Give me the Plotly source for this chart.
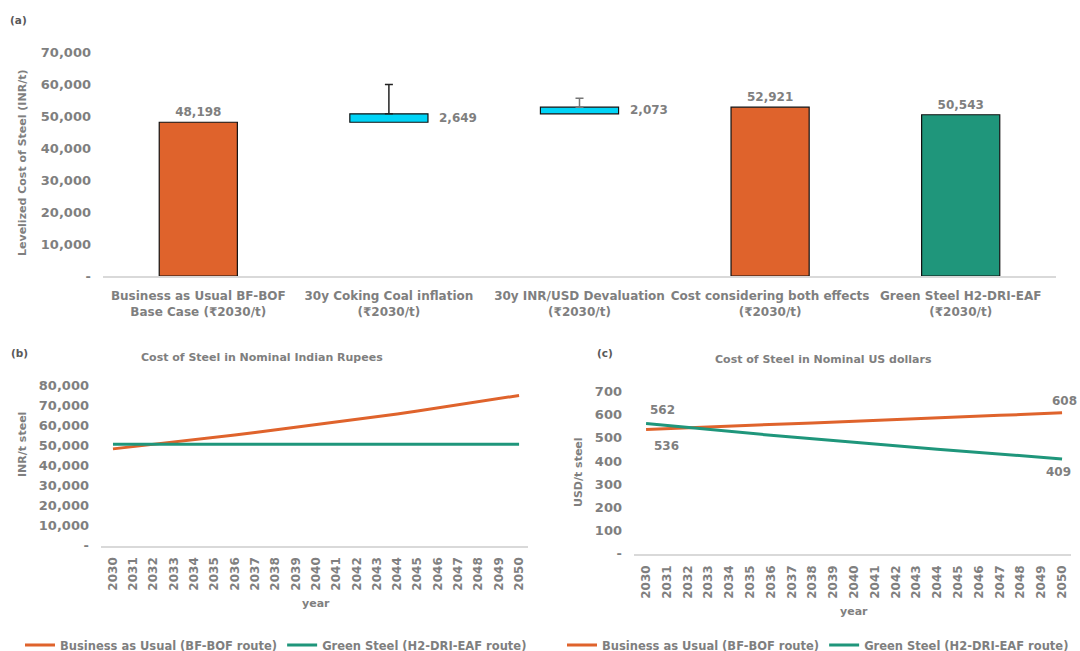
import plotly.graph_objects as go

# ---------------- data ----------------
categories = [
    "Business as Usual BF-BOF<br>Base Case (₹2030/t)",
    "30y Coking Coal inflation<br>(₹2030/t)",
    "30y INR/USD Devaluation<br>(₹2030/t)",
    "Cost considering both effects<br>(₹2030/t)",
    "Green Steel H2-DRI-EAF<br>(₹2030/t)",
]
bau_base = 48198
coal_delta = 2649
fx_delta = 2073
both_effects = 52921
green_cost = 50543
coal_err_up = 9200
fx_err_up = 2800

top_tickvals = [0, 10000, 20000, 30000, 40000, 50000, 60000, 70000]
top_ticktext = ["-", "10,000", "20,000", "30,000", "40,000", "50,000", "60,000", "70,000"]

years = [2030, 2031, 2032, 2033, 2034, 2035, 2036, 2037, 2038, 2039, 2040,
         2041, 2042, 2043, 2044, 2045, 2046, 2047, 2048, 2049, 2050]
inr_bau = [48198, 49300, 50400, 51500, 52700, 53900, 55100, 56300, 57600, 58900, 60100,
           61400, 62800, 64200, 65600, 67000, 68500, 70000, 71600, 73200, 74800]
inr_green = [50543, 50543, 50543, 50543, 50543, 50543, 50543, 50543, 50543, 50543, 50543,
             50543, 50543, 50543, 50543, 50543, 50543, 50543, 50543, 50543, 50543]
usd_bau = [536, 540, 543, 547, 550, 554, 557, 561, 564, 568, 571,
           575, 578, 582, 586, 589, 593, 597, 600, 604, 608]
usd_green = [562, 553, 544, 536, 527, 519, 511, 503, 495, 487, 481,
             473, 466, 458, 451, 444, 437, 430, 423, 416, 409]

inr_tickvals = [0, 10000, 20000, 30000, 40000, 50000, 60000, 70000, 80000]
inr_ticktext = ["-", "10,000", "20,000", "30,000", "40,000", "50,000", "60,000", "70,000", "80,000"]
usd_tickvals = [0, 100, 200, 300, 400, 500, 600, 700]
usd_ticktext = ["-", "100", "200", "300", "400", "500", "600", "700"]

# ---------------- styles ----------------
ORANGE = "#DF632C"
TEAL = "#1F967B"
CYAN = "#00D4F7"
GRAY = "#7f7f7f"
AXLINE = "#d9d9d9"
FONT = "DejaVu Sans"
H = 651.0
W = 1080.0


def py(p):
    return 1 - p / H


def px(p):
    return p / W


def b(s):
    return "<b>" + s.replace("<br>", "</b><br><b>") + "</b>"


fig = go.Figure()

# (a) waterfall-like chart
fig.add_trace(go.Bar(
    x=[categories[0], categories[3]], y=[bau_base, both_effects],
    marker=dict(color=ORANGE, line=dict(color="#111111", width=1.2)),
    width=0.41, texttemplate="<b>%{y:,.0f}</b>", textposition="outside",
    textfont=dict(color=GRAY, size=12, family=FONT), cliponaxis=False,
    showlegend=False, xaxis="x", yaxis="y"))
fig.add_trace(go.Bar(
    x=[categories[4]], y=[green_cost],
    marker=dict(color=TEAL, line=dict(color="#111111", width=1.2)),
    width=0.41, texttemplate="<b>%{y:,.0f}</b>", textposition="outside",
    textfont=dict(color=GRAY, size=12, family=FONT), cliponaxis=False,
    showlegend=False, xaxis="x", yaxis="y"))
fig.add_trace(go.Bar(
    x=[categories[1], categories[2]], y=[coal_delta, fx_delta],
    base=[bau_base, bau_base + coal_delta],
    marker=dict(color=CYAN, line=dict(color="#111111", width=1.2)),
    width=0.41, showlegend=False, xaxis="x", yaxis="y"))
fig.add_trace(go.Scatter(
    x=[categories[1]], y=[bau_base + coal_delta], mode="markers",
    marker=dict(size=1, opacity=0),
    error_y=dict(type="data", symmetric=False, array=[coal_err_up], arrayminus=[0],
                 color="#222222", thickness=1.5, width=4),
    showlegend=False, hoverinfo="skip", xaxis="x", yaxis="y"))
fig.add_trace(go.Scatter(
    x=[categories[2]], y=[bau_base + coal_delta + fx_delta], mode="markers",
    marker=dict(size=1, opacity=0),
    error_y=dict(type="data", symmetric=False, array=[fx_err_up], arrayminus=[0],
                 color="#777777", thickness=1.5, width=4),
    showlegend=False, hoverinfo="skip", xaxis="x", yaxis="y"))

# (b) INR lines
fig.add_trace(go.Scatter(x=years, y=inr_bau, mode="lines", name=b("Business as Usual (BF-BOF route)"),
                         line=dict(color=ORANGE, width=3), xaxis="x2", yaxis="y2", legend="legend"))
fig.add_trace(go.Scatter(x=years, y=inr_green, mode="lines", name=b("Green Steel (H2-DRI-EAF route)"),
                         line=dict(color=TEAL, width=3), xaxis="x2", yaxis="y2", legend="legend"))
# (c) USD lines
fig.add_trace(go.Scatter(x=years, y=usd_bau, mode="lines", name=b("Business as Usual (BF-BOF route)"),
                         line=dict(color=ORANGE, width=3), xaxis="x3", yaxis="y3", legend="legend2"))
fig.add_trace(go.Scatter(x=years, y=usd_green, mode="lines", name=b("Green Steel (H2-DRI-EAF route)"),
                         line=dict(color=TEAL, width=3), xaxis="x3", yaxis="y3", legend="legend2"))

annotations = []
lab = dict(size=12, color=GRAY, family=FONT)
# labels on floating bars
annotations.append(dict(x=categories[1], y=bau_base + coal_delta / 2, xref="x", yref="y",
                        text=b(f"{coal_delta:,}"), showarrow=False, xanchor="left", xshift=48, font=lab))
annotations.append(dict(x=categories[2], y=bau_base + coal_delta + fx_delta / 2, xref="x", yref="y",
                        text=b(f"{fx_delta:,}"), showarrow=False, xanchor="left", xshift=48, font=lab))
# USD end labels
annotations.append(dict(x=years[0], y=usd_green[0], xref="x3", yref="y3", text=b(f"{usd_green[0]}"),
                        showarrow=False, xanchor="center", xshift=16, yshift=13, font=lab))
annotations.append(dict(x=years[0], y=usd_bau[0], xref="x3", yref="y3", text=b(f"{usd_bau[0]}"),
                        showarrow=False, xanchor="center", xshift=20, yshift=-17, font=lab))
annotations.append(dict(x=years[-1], y=usd_bau[-1], xref="x3", yref="y3", text=b(f"{usd_bau[-1]}"),
                        showarrow=False, xanchor="center", xshift=2, yshift=12, font=lab))
annotations.append(dict(x=years[-1], y=usd_green[-1], xref="x3", yref="y3", text=b(f"{usd_green[-1]}"),
                        showarrow=False, xanchor="center", xshift=-4, yshift=-13, font=lab))
# panel letters
for t, xx, yy in [("(a)", 18, 20), ("(b)", 19, 353), ("(c)", 605, 353)]:
    annotations.append(dict(x=px(xx), y=py(yy), xref="paper", yref="paper", text=b(t), showarrow=False,
                            xanchor="center", yanchor="middle",
                            font=dict(size=10.5, color="#595959", family=FONT)))
ttl = dict(size=11, color=GRAY, family=FONT)
# titles
annotations.append(dict(x=px(262), y=py(357), xref="paper", yref="paper", xanchor="center",
                        yanchor="middle", text=b("Cost of Steel in Nominal Indian Rupees"),
                        showarrow=False, font=ttl))
annotations.append(dict(x=px(823), y=py(359), xref="paper", yref="paper", xanchor="center",
                        yanchor="middle", text=b("Cost of Steel in Nominal US dollars"),
                        showarrow=False, font=ttl))
# axis titles
annotations.append(dict(x=px(22), y=py(163), xref="paper", yref="paper", xanchor="center",
                        yanchor="middle", text=b("Levelized Cost of Steel (INR/t)"), textangle=-90,
                        showarrow=False, font=ttl))
annotations.append(dict(x=px(22), y=py(445), xref="paper", yref="paper", xanchor="center",
                        yanchor="middle", text=b("INR/t steel"), textangle=-90,
                        showarrow=False, font=ttl))
annotations.append(dict(x=px(578), y=py(472), xref="paper", yref="paper", xanchor="center",
                        yanchor="middle", text=b("USD/t steel"), textangle=-90,
                        showarrow=False, font=ttl))
annotations.append(dict(x=px(316), y=py(603), xref="paper", yref="paper", xanchor="center",
                        yanchor="middle", text=b("year"), showarrow=False, font=ttl))
annotations.append(dict(x=px(854), y=py(611), xref="paper", yref="paper", xanchor="center",
                        yanchor="middle", text=b("year"), showarrow=False, font=ttl))

ytickfont = dict(size=13, color=GRAY, family=FONT)
xtickfont = dict(size=12, color=GRAY, family=FONT)
yearfont = dict(size=12, color=GRAY, family=FONT)
year_text = [b(str(y)) for y in years]

fig.update_layout(
    width=1080, height=651,
    margin=dict(l=0, r=0, t=0, b=0, autoexpand=False),
    paper_bgcolor="white", plot_bgcolor="white",
    font=dict(family=FONT, color=GRAY, size=12),
    barmode="overlay",
    annotations=annotations,
    xaxis=dict(domain=[px(103), px(1056)], type="category", categoryorder="array",
               categoryarray=categories, tickvals=categories,
               ticktext=[b(c) for c in categories],
               showline=True, linecolor=AXLINE, linewidth=1.5,
               showgrid=False, ticks="", tickfont=xtickfont, anchor="y",
               ticklabelstandoff=8, automargin=False),
    yaxis=dict(domain=[py(276), py(52.7)], range=[0, 70000], tickvals=top_tickvals,
               ticktext=[b(t) for t in top_ticktext], showgrid=False, zeroline=False,
               showline=False, tickfont=ytickfont, ticklabelstandoff=11, anchor="x",
               automargin=False),
    xaxis2=dict(domain=[px(101), px(528)], range=[2029.41, 2050.44], tickvals=years,
                ticktext=year_text, tickangle=-90, showline=True,
                linecolor=AXLINE, linewidth=1.5, showgrid=False, zeroline=False, ticks="",
                tickfont=yearfont, anchor="y2", ticklabelstandoff=5, automargin=False),
    yaxis2=dict(domain=[py(545.7), py(385)], range=[0, 80000], tickvals=inr_tickvals,
                ticktext=[b(t) for t in inr_ticktext], showgrid=False, zeroline=False,
                showline=False, tickfont=ytickfont, ticklabelstandoff=11, anchor="x2",
                automargin=False),
    xaxis3=dict(domain=[px(634), px(1071)], range=[2029.42, 2050.43], tickvals=years,
                ticktext=year_text, tickangle=-90, showline=True,
                linecolor=AXLINE, linewidth=1.5, showgrid=False, zeroline=False, ticks="",
                tickfont=yearfont, anchor="y3", ticklabelstandoff=5, automargin=False),
    yaxis3=dict(domain=[py(553.8), py(391.4)], range=[0, 700], tickvals=usd_tickvals,
                ticktext=[b(t) for t in usd_ticktext], showgrid=False, zeroline=False,
                showline=False, tickfont=ytickfont, ticklabelstandoff=11, anchor="x3",
                automargin=False),
    legend=dict(orientation="h", x=px(20), y=py(645), xanchor="left", yanchor="middle",
                font=dict(size=11.5, color=GRAY, family=FONT), bgcolor="rgba(0,0,0,0)",
                tracegroupgap=0, itemwidth=30),
    legend2=dict(orientation="h", x=px(562), y=py(645), xanchor="left", yanchor="middle",
                 font=dict(size=11.5, color=GRAY, family=FONT), bgcolor="rgba(0,0,0,0)",
                 tracegroupgap=0, itemwidth=30),
)

fig.write_html("out.html")
